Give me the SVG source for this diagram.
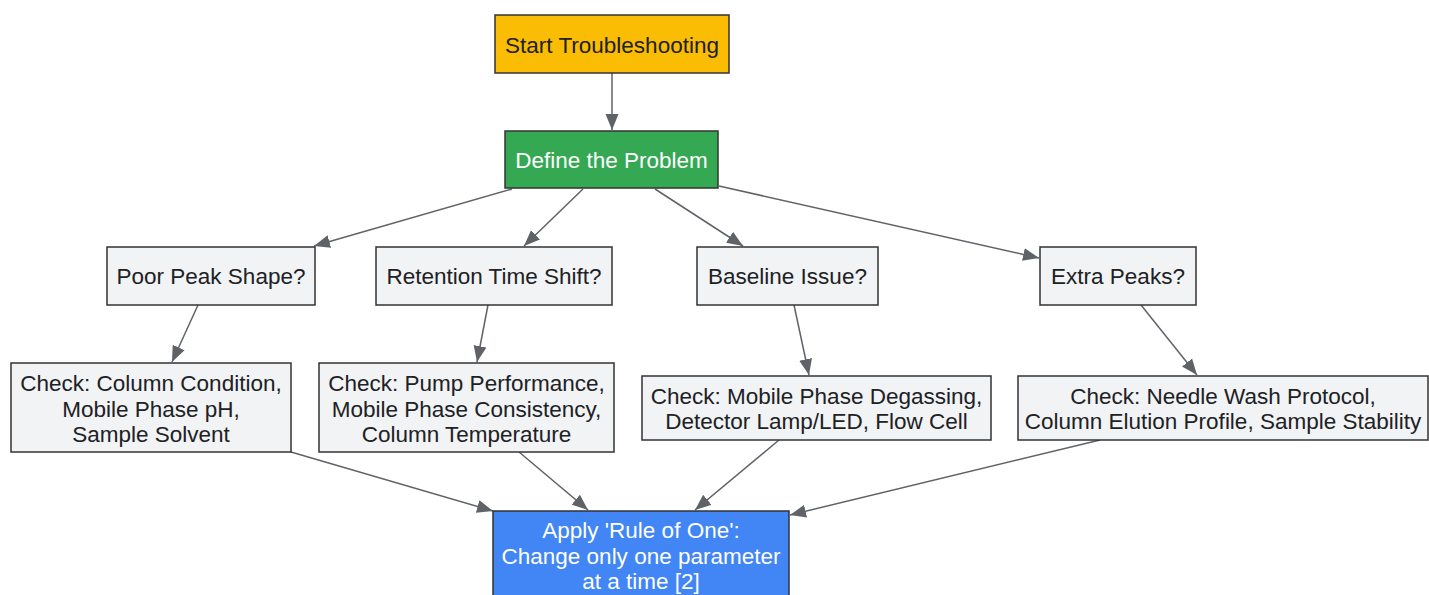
<svg xmlns="http://www.w3.org/2000/svg" width="1429" height="595" viewBox="0 0 1429 595">
<style>
.n rect{stroke:#333333;stroke-width:1.5}
.g rect{fill:#F1F3F4}
text{font-family:"Liberation Sans",Arial,sans-serif;font-size:22.5px;text-anchor:middle;fill:#202124}
.w text{fill:#ffffff}
.e line{stroke:#5F6368;stroke-width:1.5;fill:none}
</style>
<defs>
<marker id="ah" markerWidth="18" markerHeight="14" refX="16" refY="7" orient="auto" markerUnits="userSpaceOnUse">
<path d="M0,0.5 L16,7 L0,13.5 Z" fill="#5F6368"/>
</marker>
</defs>
<rect width="1429" height="595" fill="#ffffff"/>
<g class="e">
<line x1="612" y1="73" x2="612" y2="130" marker-end="url(#ah)"/>
<line x1="512" y1="189" x2="314" y2="246" marker-end="url(#ah)"/>
<line x1="583" y1="189" x2="524" y2="246" marker-end="url(#ah)"/>
<line x1="655" y1="189" x2="743" y2="246" marker-end="url(#ah)"/>
<line x1="719" y1="186" x2="1039" y2="258" marker-end="url(#ah)"/>
<line x1="198" y1="305" x2="172" y2="362" marker-end="url(#ah)"/>
<line x1="488" y1="305" x2="477" y2="362" marker-end="url(#ah)"/>
<line x1="794" y1="305" x2="809" y2="375" marker-end="url(#ah)"/>
<line x1="1141" y1="305" x2="1197" y2="375" marker-end="url(#ah)"/>
<line x1="291" y1="452" x2="493" y2="511" marker-end="url(#ah)"/>
<line x1="519" y1="452" x2="588" y2="510" marker-end="url(#ah)"/>
<line x1="779" y1="440" x2="695" y2="510" marker-end="url(#ah)"/>
<line x1="1100" y1="440" x2="790" y2="515" marker-end="url(#ah)"/>
</g>
<g id="start" class="n"><rect x="495" y="15" width="234" height="58" fill="#FBBC04"/><text x="612" y="52.5">Start Troubleshooting</text></g>
<g id="define" class="n w"><rect x="505" y="131" width="213" height="57" fill="#34A853"/><text x="611.5" y="168">Define the Problem</text></g>
<g id="poor" class="n g"><rect x="107" y="247" width="208" height="58"/><text x="211" y="284">Poor Peak Shape?</text></g>
<g id="retention" class="n g"><rect x="376" y="247" width="236" height="58"/><text x="494" y="284">Retention Time Shift?</text></g>
<g id="baseline" class="n g"><rect x="697" y="247" width="181" height="58"/><text x="787.5" y="284">Baseline Issue?</text></g>
<g id="extra" class="n g"><rect x="1040" y="247" width="156" height="58"/><text x="1118" y="284">Extra Peaks?</text></g>
<g id="check1" class="n g"><rect x="11" y="363" width="280" height="89"/><text x="151" y="391">Check: Column Condition,</text><text x="151" y="416.5">Mobile Phase pH,</text><text x="151" y="442">Sample Solvent</text></g>
<g id="check2" class="n g"><rect x="319" y="363" width="295" height="89"/><text x="466.5" y="391">Check: Pump Performance,</text><text x="466.5" y="416.5">Mobile Phase Consistency,</text><text x="466.5" y="442">Column Temperature</text></g>
<g id="check3" class="n g"><rect x="642" y="376" width="349" height="64"/><text x="816.5" y="403.5">Check: Mobile Phase Degassing,</text><text x="816.5" y="429">Detector Lamp/LED, Flow Cell</text></g>
<g id="check4" class="n g"><rect x="1018" y="376" width="410" height="64"/><text x="1223" y="403.5">Check: Needle Wash Protocol,</text><text x="1223" y="429">Column Elution Profile, Sample Stability</text></g>
<g id="apply" class="n w"><rect x="493" y="511" width="296" height="100" fill="#4285F4"/><text x="641" y="538">Apply 'Rule of One':</text><text x="641" y="563.5">Change only one parameter</text><text x="641" y="589">at a time [2]</text></g>
</svg>
